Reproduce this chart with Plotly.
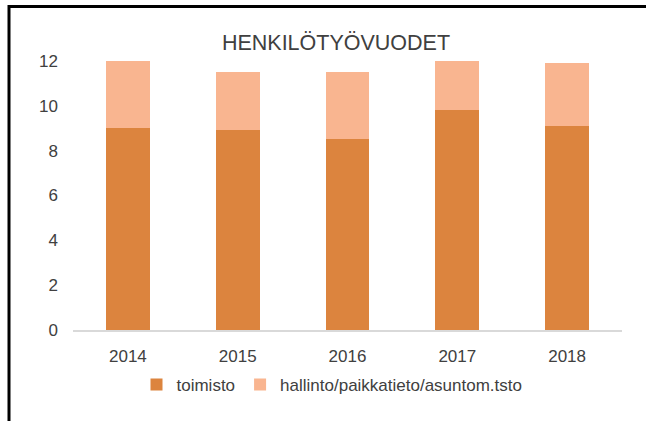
import plotly.graph_objects as go

years = ["2014", "2015", "2016", "2017", "2018"]
toimisto = [9.0, 8.9, 8.5, 9.8, 9.1]
hallinto = [3.0, 2.6, 3.0, 2.2, 2.8]

W, H = 646, 421
L, R, T, B = 73, 24, 61, 91
pw = W - L - R
ph = H - T - B


def px_x(px):
    return (px - L) / pw


def px_y(py):
    return (H - B - py) / ph


font = "Liberation Sans, Arial, sans-serif"
txt = "#404040"

fig = go.Figure()
fig.add_trace(go.Bar(x=years, y=toimisto, name="toimisto",
                     marker=dict(color="#DC843E", line=dict(width=0))))
fig.add_trace(go.Bar(x=years, y=hallinto, name="hallinto/paikkatieto/asuntom.tsto",
                     marker=dict(color="#F9B590", line=dict(width=0))))

# chart frame (only top and left edges show in the reference)
fig.add_shape(type="line", xref="paper", yref="paper",
              x0=px_x(8), x1=px_x(660), y0=px_y(6.5), y1=px_y(6.5),
              line=dict(color="black", width=3))
fig.add_shape(type="line", xref="paper", yref="paper",
              x0=px_x(9), x1=px_x(9), y0=px_y(5), y1=px_y(430),
              line=dict(color="black", width=3))

fig.update_layout(
    width=W, height=H,
    margin=dict(l=L, r=R, t=T, b=B),
    barmode="stack",
    bargap=0.6,
    plot_bgcolor="white",
    paper_bgcolor="white",
    font=dict(family=font, size=17, color=txt),
    title=dict(text="HENKILÖTYÖVUODET", x=336 / W, xanchor="center",
               y=1 - 42 / H, yanchor="middle", xref="container", yref="container",
               font=dict(family=font, size=21.5, color=txt)),
    legend=dict(orientation="h", x=px_x(332), xanchor="center",
                y=px_y(385), yanchor="middle", font=dict(size=17, color=txt),
                itemwidth=30, traceorder="normal"),
    showlegend=True,
)
fig.update_xaxes(showline=True, linecolor="#D9D9D9", linewidth=2,
                 showgrid=False, ticks="", ticklabelstandoff=10)
fig.update_yaxes(range=[0, 12], dtick=2, showgrid=False, zeroline=False,
                 showline=False, ticks="", ticklabelstandoff=14)

fig.write_html("out.html", config={"displayModeBar": False},
               post_script="document.body.style.margin='0';")
